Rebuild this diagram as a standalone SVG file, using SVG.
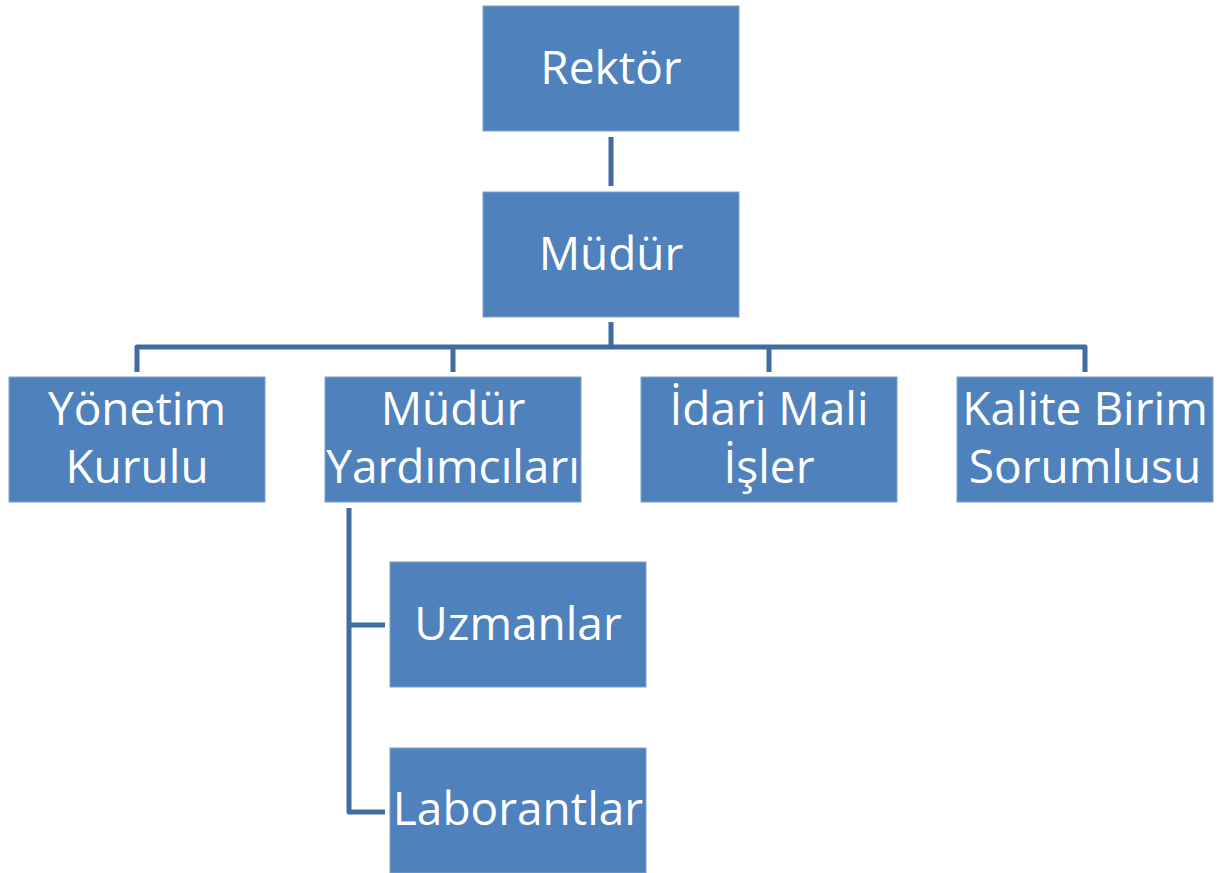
<svg xmlns="http://www.w3.org/2000/svg" width="1221" height="873" viewBox="0 0 1221 873">
<style>
.box{fill:#4f81bd;stroke:#7ea1cc;stroke-width:1}
.t{fill:#fff;font-family:"Open Sans","Noto Sans",sans-serif;font-size:46px;text-anchor:middle}
.c{fill:none;stroke:#3f6ca3;stroke-width:5;stroke-linejoin:round;stroke-linecap:butt}
</style>
<rect width="1221" height="873" fill="#fff"/>
<g id="connectors">
<path class="c" d="M611 137V186"/>
<path class="c" d="M611 322V347"/>
<path class="c" d="M137 372V347H1085V372"/>
<path class="c" d="M453 347V372"/>
<path class="c" d="M769 347V372"/>
<path class="c" d="M385 625H349M349 508V812H385"/>
</g>
<g id="rektor"><rect class="box" x="483" y="6" width="256" height="125"/><text class="t" x="611" y="84">Rektör</text></g>
<g id="mudur"><rect class="box" x="483" y="192" width="256" height="125"/><text class="t" x="611" y="270">Müdür</text></g>
<g id="yonetim"><rect class="box" x="9" y="377" width="256" height="125"/><text class="t" x="137" y="425">Yönetim</text><text class="t" x="137" y="483">Kurulu</text></g>
<g id="yardimcilar"><rect class="box" x="325" y="377" width="256" height="125"/><text class="t" x="453" y="425">Müdür</text><text class="t" x="453" y="483">Yardımcıları</text></g>
<g id="idari"><rect class="box" x="641" y="377" width="256" height="125"/><text class="t" x="769" y="425">İdari Mali</text><text class="t" x="769" y="483">İşler</text></g>
<g id="kalite"><rect class="box" x="957" y="377" width="256" height="125"/><text class="t" x="1085" y="425">Kalite Birim</text><text class="t" x="1085" y="483">Sorumlusu</text></g>
<g id="uzmanlar"><rect class="box" x="390" y="562" width="256" height="125"/><text class="t" x="518" y="640">Uzmanlar</text></g>
<g id="laborantlar"><rect class="box" x="390" y="748" width="256" height="125"/><text class="t" x="518" y="825">Laborantlar</text></g>
</svg>
